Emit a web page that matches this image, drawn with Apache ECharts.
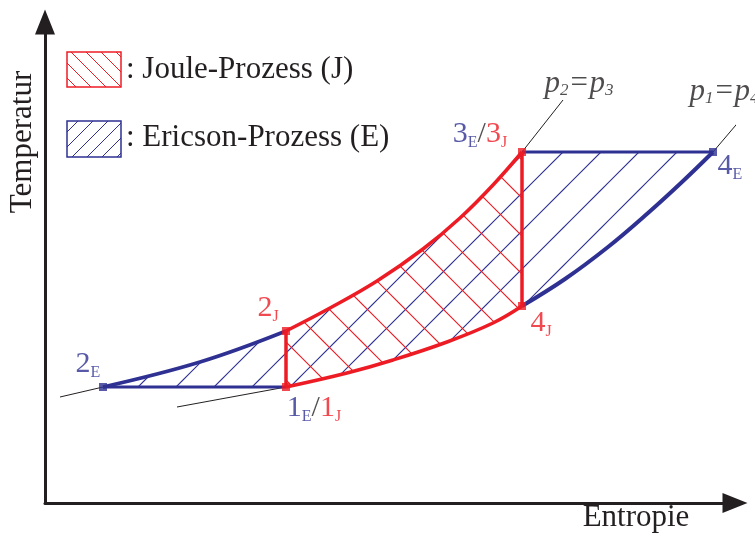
<!DOCTYPE html>
<html>
<head>
<meta charset="utf-8">
<script src="https://cdn.jsdelivr.net/npm/echarts@6/dist/echarts.min.js"></script>
<style>
  html, body { margin: 0; padding: 0; background: #fff; }
  #chart { width: 755px; height: 537px; }
</style>
</head>
<body>
<div id="chart"></div>
<script>
// T-s-Diagramm, Werte in relativen Einheiten (x = Entropie, y = Temperatur)
const statePoints = {
  '2E': [58, 116],
  '1':  [241, 116],
  '2J': [241, 172],
  '3':  [477, 351],
  '4J': [477, 197],
  '4E': [668, 351]
}
// Isobare p2 = p3 : 2E -> 2J -> 3
const isobarHigh = [[58, 116], [155, 141], [241, 172], [285, 195], [332, 222], [378, 254],
  [415, 285], [448, 318], [477, 351]]
// Isobare p1 = p4 : 1 -> 4J -> 4E
const isobarLow = [[241, 116], [302, 130], [348, 143], [402, 161], [448, 180], [477, 197],
  [520, 224], [563, 256], [603, 290], [637, 321], [668, 351]]
// duenne Verlaengerungen der Isobaren
const tangentHighLeft = [[15, 106], [58, 116]]
const tangentLowLeft = [[132, 96], [241, 116]]
const tangentHighRight = [[477, 351], [518, 403]]
const tangentLowRight = [[668, 351], [702, 391]]

const BLUE = '#2e3192'
const RED = '#ed1c24'
const INK = '#231f20'
const SERIF = '"Liberation Serif", "Times New Roman", serif'

// Teilstuecke
const i2J = 2, i4J = 5
const highE = isobarHigh.slice(0, i2J + 1)      // 2E -> 2J
const highJ = isobarHigh.slice(i2J)             // 2J -> 3
const lowJ = isobarLow.slice(0, i4J + 1)        // 1 -> 4J
const lowE = isobarLow.slice(i4J)               // 4J -> 4E

const ericsonArea = isobarHigh.concat(isobarLow.slice().reverse())
const jouleArea = highJ.concat(lowJ.slice().reverse())

// Schraffur als Muster
function hatch(size, color, width, dir, phase) {
  const c = document.createElement('canvas')
  c.width = size
  c.height = size
  const g = c.getContext('2d')
  g.strokeStyle = color
  g.lineWidth = width
  g.beginPath()
  for (let k = -1; k <= 2; k++) {
    const o = phase + k * size
    if (dir === '/') {
      g.moveTo(-size, o + size)
      g.lineTo(2 * size, o - 2 * size)
    } else {
      g.moveTo(-size, -size - o)
      g.lineTo(2 * size, 2 * size - o)
    }
  }
  g.stroke()
  return { image: c, repeat: 'repeat' }
}

const bluePattern = hatch(38, BLUE, 1.2, '/', 31)
const redPattern = hatch(38, RED, 1.2, '\\', 20)
const blueLegend = hatch(15, BLUE, 1, '/', 4)
const redLegend = hatch(15, RED, 1, '\\', 4)

function line(data, color, width, smooth) {
  return {
    type: 'line', data, symbol: 'none',
    smooth: smooth ? 0.4 : false,
    clip: false, silent: true, z: 3,
    lineStyle: { color, width, cap: 'butt' }
  }
}

function area(points, fill) {
  return {
    type: 'custom', data: [[0, 0]], clip: false, silent: true, z: 1,
    renderItem: (params, api) => ({
      type: 'polygon',
      shape: { points: points.map(p => api.coord(p)) },
      style: { fill: fill, stroke: null }
    })
  }
}

const rich = {
  b: { color: BLUE, fontSize: 30, lineHeight: 34, fontFamily: SERIF },
  bs: { color: BLUE, fontSize: 16, lineHeight: 10, verticalAlign: 'bottom', fontFamily: SERIF },
  r: { color: RED, fontSize: 30, lineHeight: 34, fontFamily: SERIF },
  rs: { color: RED, fontSize: 16, lineHeight: 10, verticalAlign: 'bottom', fontFamily: SERIF },
  k: { color: INK, fontSize: 30, lineHeight: 34, fontFamily: SERIF },
  p: { color: INK, fontSize: 31, lineHeight: 30, fontStyle: 'italic', fontFamily: SERIF },
  ps: { color: INK, fontSize: 17, lineHeight: 16, verticalAlign: 'bottom', fontStyle: 'italic', fontFamily: SERIF }
}

const labelText = {
  '2E': '{b|2}{bs|E}',
  '1': '{b|1}{bs|E}{k|/}{r|1}{rs|J}',
  '2J': '{r|2}{rs|J}',
  '3': '{b|3}{bs|E}{k|/}{r|3}{rs|J}',
  '4J': '{r|4}{rs|J}',
  '4E': '{b|4}{bs|E}'
}
const labelOffset = {
  '2E': [-15, -23], '1': [28, 21], '2J': [-18, -23],
  '3': [-42, -18], '4J': [19, 17], '4E': [17, 14]
}
const markerColor = { '2E': BLUE, '4E': BLUE, '1': RED, '2J': RED, '3': RED, '4J': RED }

const chart = echarts.init(document.getElementById('chart'))

const option = {
  animation: false,
  backgroundColor: '#fff',
  grid: { left: 45, right: 20, top: 22, bottom: 34 },
  xAxis: {
    type: 'value', min: 0, max: 690,
    axisLine: { show: true, symbol: ['none', 'triangle'], symbolSize: [20, 25], lineStyle: { color: INK, width: 3 } },
    axisTick: { show: false }, axisLabel: { show: false }, splitLine: { show: false }
  },
  yAxis: {
    type: 'value', min: 0, max: 481,
    axisLine: { show: true, symbol: ['none', 'triangle'], symbolSize: [20, 25], lineStyle: { color: INK, width: 3 } },
    axisTick: { show: false }, axisLabel: { show: false }, splitLine: { show: false }
  },
  graphic: [
    { type: 'text', x: 23, y: 142, rotation: Math.PI / 2,
      style: { text: 'Temperatur', fill: INK, font: '31px ' + SERIF, align: 'center', verticalAlign: 'middle', textAlign: 'center', textVerticalAlign: 'middle' } },
    { type: 'text', x: 636, y: 518,
      style: { text: 'Entropie', fill: INK, font: '31px ' + SERIF, align: 'center', verticalAlign: 'middle', textAlign: 'center', textVerticalAlign: 'middle' } },
    { type: 'rect', shape: { x: 67, y: 52, width: 54, height: 35 },
      style: { fill: redLegend, stroke: RED, lineWidth: 1.5 } },
    { type: 'rect', shape: { x: 67, y: 121, width: 54, height: 36 },
      style: { fill: blueLegend, stroke: BLUE, lineWidth: 1.5 } },
    { type: 'text', x: 126, y: 70,
      style: { text: ': Joule-Prozess (J)', fill: INK, font: '31px ' + SERIF, align: 'left', verticalAlign: 'middle', textAlign: 'left', textVerticalAlign: 'middle' } },
    { type: 'text', x: 126, y: 138,
      style: { text: ': Ericson-Prozess (E)', fill: INK, font: '31px ' + SERIF, align: 'left', verticalAlign: 'middle', textAlign: 'left', textVerticalAlign: 'middle' } }
  ],
  series: [
    area(ericsonArea, bluePattern),
    area(jouleArea, redPattern),
    line(tangentHighLeft, INK, 1),
    line(tangentLowLeft, INK, 1),
    line(tangentHighRight, INK, 1),
    line(tangentLowRight, INK, 1),
    // Ericson-Prozess
    line(highE, BLUE, 3.5, true),
    line([statePoints['2E'], statePoints['1']], BLUE, 3),
    line([statePoints['3'], statePoints['4E']], BLUE, 3),
    line(lowE, BLUE, 4, true),
    // Joule-Prozess
    line(highJ, RED, 3.5, true),
    line(lowJ, RED, 3.5, true),
    line([statePoints['1'], statePoints['2J']], RED, 3.5),
    line([statePoints['4J'], statePoints['3']], RED, 3.5),
    {
      type: 'scatter', symbol: 'rect', symbolSize: 8, clip: false, silent: true, z: 5,
      data: Object.keys(statePoints).map(k => ({
        value: statePoints[k],
        itemStyle: { color: markerColor[k] },
        label: { show: true, position: 'inside', offset: labelOffset[k], formatter: labelText[k], rich }
      }))
    },
    {
      type: 'scatter', symbolSize: 1, clip: false, silent: true, z: 5,
      itemStyle: { color: 'transparent' },
      data: [
        { value: tangentHighRight[1], label: { show: true, position: 'inside', offset: [16, -16], formatter: '{p|p}{ps|2}{p|=p}{ps|3}', rich } },
        { value: tangentLowRight[1], label: { show: true, position: 'inside', offset: [-23, -20], formatter: '{p|p}{ps|1}{p|=p}{ps|4}', rich } }
      ]
    }
  ]
}

chart.setOption(option)
window.addEventListener('resize', () => chart.resize())
</script>
</body>
</html>
